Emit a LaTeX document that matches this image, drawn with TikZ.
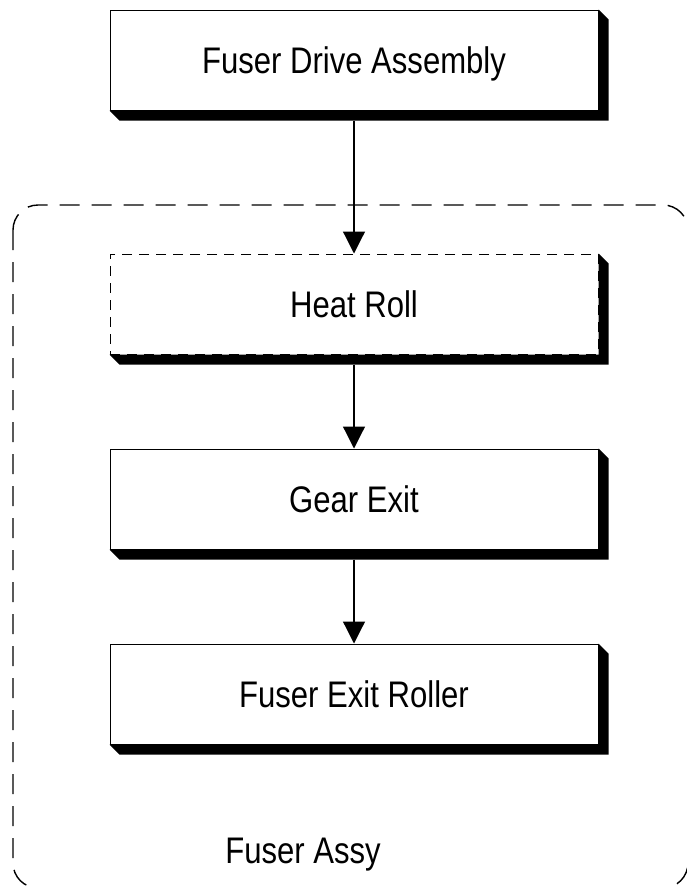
\documentclass[tikz,border=0pt]{standalone}
\usepackage{fontspec}
\setmainfont{Liberation Sans}[FakeStretch=0.84]
\usetikzlibrary{positioning,arrows.meta}
\tikzset{
    label font/.style={font=\fontsize{37}{42}\selectfont, text height=27pt, text depth=0pt, inner sep=0pt},
    unit/.style={draw, fill=white, line width=1pt, minimum width=488pt, minimum height=100pt, label font},
    dashed unit/.style={unit, dash pattern=on 10pt off 7pt},
    drive/.style={-{Triangle[length=22pt,width=22pt]}, line width=1.2pt},
    assy frame/.style={draw, line width=1.4pt, rounded corners=25pt, dash pattern=on 20pt off 12pt}
}

\begin{document}
\begin{tikzpicture}[x=1pt, y=-1pt]
    \useasboundingbox (0,0) rectangle (686,886);

    % Fuser Assy frame
    \draw[assy frame] (13,205) rectangle (688,888);
    \node[label font] (assylabel) at (303,850) {Fuser Assy};

    % Blocks
    \node[unit] (drive) at (354,60) {Fuser Drive Assembly};
    \node[dashed unit] (heat) at (354,304) {Heat Roll};
    \node[unit] (gear) at (354,499) {Gear Exit};
    \node[unit] (exit) at (354,694) {Fuser Exit Roller};

    % Shadows
    \foreach \n in {drive,heat,gear,exit}
        \fill (\n.north east) -- ++(10,10) -- ([shift={(10,10)}]\n.south east)
            -- ([shift={(10,10)}]\n.south west) -- (\n.south west) -- (\n.south east) -- cycle;

    % Drive train
    \draw[drive] ([yshift=-10pt]drive.south) -- (heat.north);
    \draw[drive] ([yshift=-10pt]heat.south) -- (gear.north);
    \draw[drive] ([yshift=-10pt]gear.south) -- (exit.north);
\end{tikzpicture}
\end{document}
